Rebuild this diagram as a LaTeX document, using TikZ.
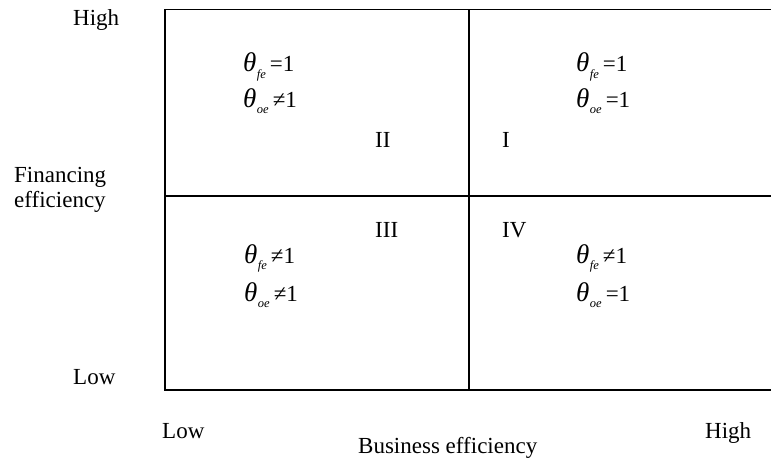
\documentclass[tikz,border=0pt]{standalone}
\usepackage{fontspec}
\setmainfont{Liberation Serif}
\newcommand{\thv}[2]{{\fontsize{27}{27}\selectfont\itshape θ}\hspace{0.5pt}\raisebox{-0.6ex}{\fontsize{12.5}{12.5}\selectfont\itshape #1}\hspace{4pt}#2}
\begin{document}
\begin{tikzpicture}[x=1pt,y=-1pt,
  lbl/.style={inner sep=0pt,anchor=base west,font=\fontsize{23}{25}\selectfont},
  frame/.style={line width=1.3pt,black}]
\useasboundingbox (0,0) rectangle (771,460);
\draw[frame] (771,9.5) -- (165,9.5) -- (165,390) -- (771,390);
\draw[frame] (469,9.5) -- (469,390);
\draw[frame] (165,196) -- (771,196);
% axis labels
\node[lbl] (hy) at (73,26) {High};
\node[lbl] (fe1) at (14,182) {Financing};
\node[lbl] (fe2) at (14,207) {efficiency};
\node[lbl] (ly) at (73,384) {Low};
\node[lbl] (lx) at (162,438) {Low};
\node[lbl] (be) at (358,453) {Business efficiency};
\node[lbl] (hx) at (705,438) {High};
% quadrant numerals
\node[lbl] (q2) at (375,147) {II};
\node[lbl] (q1) at (502,147) {I};
\node[lbl] (q3) at (375,237) {III};
\node[lbl] (q4) at (502,237) {IV};
% conditions
\node[lbl] (a1) at (243,72) {\thv{fe}{=1}};
\node[lbl] (a2) at (243,107) {\thv{oe}{≠1}};
\node[lbl] (b1) at (576,72) {\thv{fe}{=1}};
\node[lbl] (b2) at (576,107) {\thv{oe}{=1}};
\node[lbl] (c1) at (244,263) {\thv{fe}{≠1}};
\node[lbl] (c2) at (244,301) {\thv{oe}{≠1}};
\node[lbl] (d1) at (576,263) {\thv{fe}{≠1}};
\node[lbl] (d2) at (576,301) {\thv{oe}{=1}};
\end{tikzpicture}
\end{document}
